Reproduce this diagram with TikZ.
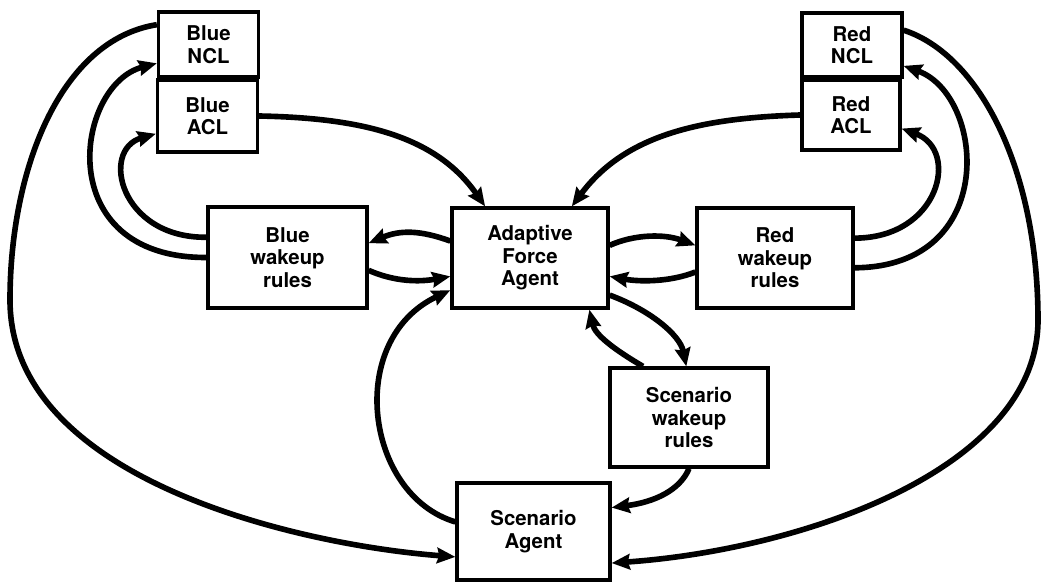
\documentclass[tikz,border=0pt]{standalone}
\usepackage{fontspec}
\setmainfont{TeX Gyre Heros}
\usetikzlibrary{arrows.meta}

\begin{document}
\begin{tikzpicture}[x=0.025cm, y=-0.025cm,
	box/.style={draw, line width=2.3pt, align=center, inner sep=0pt, font=\bfseries\fontsize{14.5}{16}\selectfont},
	link/.style={line width=4pt, -{Stealth[length=13pt, width=11pt, inset=1.5pt]}}]
	\useasboundingbox (0, 0) rectangle (1041, 582);

	\node[box, minimum width=2.5cm, minimum height=1.625cm] (BlueNCL) at (208.5, 44.5) {Blue\\NCL};
	\node[box, minimum width=2.5cm, minimum height=1.8cm] (BlueACL) at (207.5, 116) {Blue\\ACL};
	\node[box, minimum width=2.5cm, minimum height=1.6cm] (RedNCL) at (852, 45) {Red\\NCL};
	\node[box, minimum width=2.45cm, minimum height=1.75cm] (RedACL) at (851, 115) {Red\\ACL};
	\node[box, minimum width=3.975cm, minimum height=2.525cm] (BlueWake) at (287.5, 257.5) {Blue\\wakeup\\rules};
	\node[box, minimum width=3.9cm, minimum height=2.5cm] (Agent) at (530, 258) {Adaptive\\Force\\Agent};
	\node[box, minimum width=3.9cm, minimum height=2.5cm] (RedWake) at (775, 258) {Red\\wakeup\\rules};
	\node[box, minimum width=3.95cm, minimum height=2.475cm] (ScenWake) at (689, 417.5) {Scenario\\wakeup\\rules};
	\node[box, minimum width=3.825cm, minimum height=2.425cm] (ScenAgent) at (533.5, 531.5) {Scenario\\Agent};

	% outer loops
	\draw[link] (BlueNCL.159) .. controls (60, 40) and (10, 170) .. (10, 300) .. controls (10, 480) and (300, 545) .. (ScenAgent.198);
	\draw[link] (RedNCL.16) .. controls (980, 55) and (1038, 170) .. (1038, 320) .. controls (1038, 470) and (800, 550) .. (ScenAgent.338);

	% blue side
	\draw[link] (BlueWake.west) .. controls (50, 258) and (75, 85) .. (BlueNCL.200);
	\draw[link] (BlueWake.166) .. controls (120, 238) and (100, 150) .. (BlueACL.199);
	\draw[link] (BlueACL.east) .. controls (360, 118) and (435, 135) .. (Agent.131);
	\draw[link] (Agent.168) .. controls (420, 230) and (400, 230) .. (BlueWake.10);
	\draw[link] (BlueWake.351) .. controls (395, 282) and (420, 282) .. (Agent.193);

	% red side
	\draw[link] (RedWake.353) .. controls (1000, 267) and (985, 95) .. (RedNCL.338);
	\draw[link] (RedWake.14) .. controls (940, 238) and (960, 150) .. (RedACL.345);
	\draw[link] (RedACL.west) .. controls (700, 118) and (625, 135) .. (Agent.51);
	\draw[link] (Agent.9) .. controls (635, 234) and (665, 234) .. (RedWake.171);
	\draw[link] (RedWake.190) .. controls (670, 282) and (640, 282) .. (Agent.347);

	% scenario
	\draw[link] (Agent.335) .. controls (650, 310) and (680, 335) .. (ScenWake.93);
	\draw[link] (ScenWake.132) .. controls (615, 350) and (595, 335) .. (Agent.319);
	\draw[link] (ScenWake.south) .. controls (680, 490) and (655, 502) .. (ScenAgent.17);
	\draw[link] (ScenAgent.173) .. controls (365, 495) and (345, 340) .. (Agent.202);
\end{tikzpicture}
\end{document}
